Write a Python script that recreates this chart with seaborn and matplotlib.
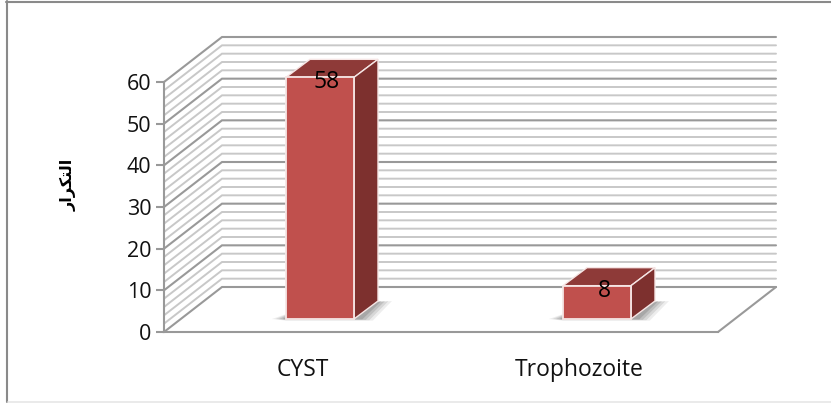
import matplotlib
matplotlib.use('Agg')
import matplotlib.pyplot as plt
import seaborn as sns
import pandas as pd
from matplotlib.lines import Line2D
from matplotlib.patches import Polygon
from matplotlib.transforms import Affine2D

categories = ['CYST', 'Trophozoite']
counts = [58, 8]
y_ticks = [0, 10, 20, 30, 40, 50, 60]
grid_levels = list(range(0, 62, 2))
y_title = '\ufead\ufe8d\ufeae\ufedc\ufe98\ufedf\ufe8d'  # shaped forms, left to right

sns.set_theme(style='white')
plt.rcParams['font.family'] = ['Open Sans', 'DejaVu Sans']

W, H = 831, 403
PX = 277        # pixels per category
PY = 250 / 60   # pixels per count

# depth of the chart box and of the bars, in data units
DX, DY = 58 / PX, 45 / PY
BAR_DX, BAR_DY = 24 / PX, 18 / PY
SHIFT_X, SHIFT_Y = 17.5 / PX, 13 / PY

GRID_MAJOR = '#999999'
GRID_MINOR = '#c8c8c8'
FRONT = '#C0504D'
TOP = '#8E3A38'
SIDE = '#7D302E'
EDGE = '#f6e6e5'

fig = plt.figure(figsize=(W / 100, H / 100), dpi=100, facecolor='white')
ax = fig.add_axes([164 / W, 1 - 332 / H, 554 / W, 250 / H])

# picture frame: heavy on left and top, faint at the bottom, none on the right
for xs, ys, col, lw in [([7, 7], [1, 402], '#8a8a8a', 1.5),
                        ([6, 831], [2, 2], '#8a8a8a', 1.5),
                        ([8, 831], [402, 402], '#e6e6e6', 1.2)]:
    fig.add_artist(Line2D([x / W for x in xs], [1 - y / H for y in ys], transform=fig.transFigure,
                          color=col, linewidth=lw))

df = pd.DataFrame({'stage': categories, 'count': counts})
sns.barplot(data=df, x='stage', y='count', color=FRONT, saturation=1, width=68 / PX, ax=ax, zorder=5)

ax.set_xlim(-0.5, 1.5)
ax.set_ylim(0, 60)
x0, x1 = ax.get_xlim()

# back wall, side wall and floor
for v in grid_levels:
    major = v % 10 == 0
    color = GRID_MAJOR if major else GRID_MINOR
    lw = 1.5 if major else 1.4
    ax.plot([x0, x0 + DX, x1 + DX], [v, v + DY, v + DY], color=color, lw=lw,
            clip_on=False, zorder=1, solid_joinstyle='miter')
ax.plot([x1, x1 + DX], [0, DY], color=GRID_MAJOR, lw=1.5, clip_on=False, zorder=1)

# bars: move the front faces back, then add top, side and shadow
shift = Affine2D().translate(SHIFT_X, SHIFT_Y) + ax.transData
for bar, value in zip(ax.patches, counts):
    bar.set_transform(shift)
    bar.set_clip_on(False)
    bar.set_edgecolor(EDGE)
    bar.set_linewidth(1.3)
    l, r = bar.get_x(), bar.get_x() + bar.get_width()
    b, t = 0, bar.get_height()

    # soft floor shadow, a few stacked layers
    for grow, alpha in [(1.0, 0.10), (0.75, 0.14), (0.5, 0.18), (0.25, 0.22)]:
        sx, sy = 14 * grow / PX, 4 * grow / PY
        shadow = [(l - sx, b), (l + BAR_DX * 0.5, b + BAR_DY * 0.5),
                  (r + BAR_DX + sx, b + BAR_DY), (r + BAR_DX * 0.2 + sx, b - sy * 0.4), (r, b - sy * 0.4), (l, b - sy * 0.4)]
        ax.add_patch(Polygon(shadow, closed=True, facecolor='#555555', edgecolor='none', alpha=alpha,
                             transform=shift, clip_on=False, zorder=3))

    ax.add_patch(Polygon([(l, t), (l + BAR_DX, t + BAR_DY), (r + BAR_DX, t + BAR_DY), (r, t)], closed=True,
                         facecolor=TOP, edgecolor=EDGE, linewidth=1, transform=shift, clip_on=False, zorder=4))
    ax.add_patch(Polygon([(r, b), (r + BAR_DX, b + BAR_DY), (r + BAR_DX, t + BAR_DY), (r, t)], closed=True,
                         facecolor=SIDE, edgecolor=EDGE, linewidth=1, transform=shift, clip_on=False, zorder=4))
    ax.text((l + r) / 2 + 7 / PX, t - 5 / PY, str(value), transform=shift, ha='center', va='center',
            fontsize=16.5, color='black', zorder=6, clip_on=False)

ax.set_yticks(y_ticks)
ax.set_xlabel('')
ax.set_ylabel(y_title, fontsize=11.5, fontweight='bold', color='black', family='DejaVu Sans')
ax.yaxis.set_label_coords((77 - 164) / 554, (332 - 185) / 250)

ax.tick_params(axis='y', left=True, length=6, width=1.5, color=GRID_MAJOR, labelsize=15.5, pad=3, labelcolor='#111111')
ax.tick_params(axis='x', bottom=False, labelsize=16.5, pad=13, labelcolor='#111111')

sns.despine(ax=ax, top=True, right=True)
for side in ['left', 'bottom']:
    ax.spines[side].set_color(GRID_MAJOR)
    ax.spines[side].set_linewidth(1.5)
ax.patch.set_alpha(0)

fig.savefig('out.png', dpi=100)
